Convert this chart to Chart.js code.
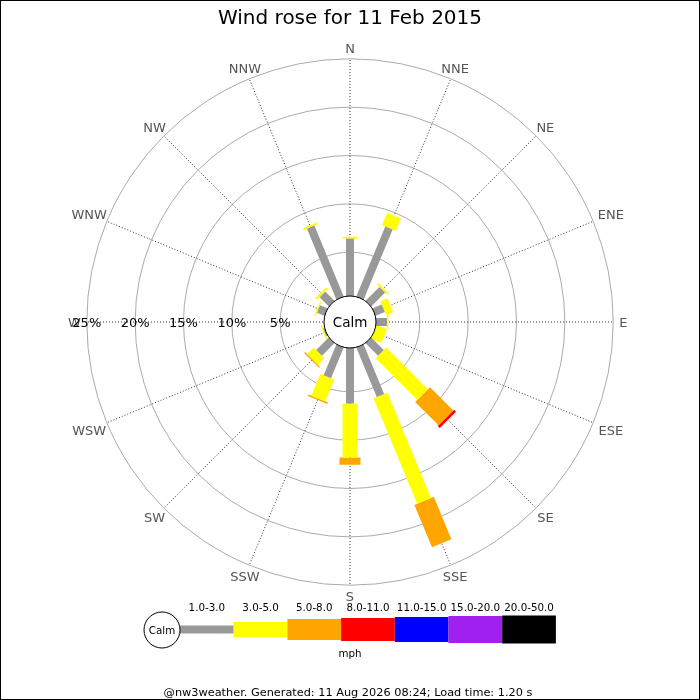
<!DOCTYPE html>
<html>
<head>
<meta charset="utf-8">
<title>Wind rose</title>
<script src="https://cdn.jsdelivr.net/npm/chart.js@4.4.1/dist/chart.umd.min.js"></script>
<style>
body{margin:0;background:#fff}
#wrap{width:700px;height:700px}
</style>
</head>
<body>
<div id="wrap"><canvas id="myChart" width="700" height="700"></canvas></div>
<script>
// directions and speed bands
const direcciones = ['N','NNE','NE','ENE','E','ESE','SE','SSE','S','SSW','SW','WSW','W','WNW','NW','NNW']
const bandas = ['1.0-3.0','3.0-5.0','5.0-8.0','8.0-11.0','11.0-15.0','15.0-20.0','20.0-50.0']

// % of time for each direction (N..NNW), one array per band
const vel1a3   = [6.4, 8.3, 2.5, 1.5, 1.6, 0.4, 2.3, 6.0, 6.2, 3.9, 2.3, 0.6, 0.3, 1.3, 1.8, 8.4]
const vel3a5   = [0.2, 1.4, 0.2, 0.8, 0.15, 1.2, 6.1, 11.8, 5.6, 2.45, 0.95, 0.15, 0.15, 0.15, 0.25, 0.2]
const vel5a8   = [0, 0, 0, 0, 0, 0, 3.4, 4.75, 0.75, 0.17, 0.15, 0, 0, 0, 0, 0]
const vel8a11  = [0, 0, 0, 0, 0, 0, 0.3, 0, 0, 0, 0, 0, 0, 0, 0, 0]
const vel11a15 = [0, 0, 0, 0, 0, 0, 0, 0, 0, 0, 0, 0, 0, 0, 0, 0]
const vel15a20 = [0, 0, 0, 0, 0, 0, 0, 0, 0, 0, 0, 0, 0, 0, 0, 0]
const vel20a50 = [0, 0, 0, 0, 0, 0, 0, 0, 0, 0, 0, 0, 0, 0, 0, 0]

const anillos = [5, 10, 15, 20, 25]
const anilloLabels = ['5%', '10%', '15%', '20%', '25%']

const titulo = 'Wind rose for 11 Feb 2015'
const unidad = 'mph'
const pie = '@nw3weather. Generated: 11 Aug 2026 08:24; Load time: 1.20 s'

const colores = ['#999999', '#ffff00', '#ffa500', '#ff0000', '#0000ff', '#a020f0', '#000000']
const anchos = [8, 15, 21, 23, 25, 27, 28]

const PX = 9.67        // px per 1 %
const OFFSET = 2.22    // calm hole, in % units
const TITLE_H = 34
const CENTRO_Y = 322

const tabla = [vel1a3, vel3a5, vel5a8, vel8a11, vel11a15, vel15a20, vel20a50]

Chart.defaults.font.family = '"DejaVu Sans", sans-serif'

const $datasets = []
for (let b = 0; b < tabla.length; b++) {
  for (let i = 0; i < direcciones.length; i++) {
    const v = tabla[b][i]
    if (!v) continue
    let inicio = 0
    for (let k = 0; k < b; k++) inicio += tabla[k][i]
    const ang = i * Math.PI / 8
    const r0 = OFFSET + inicio, r1 = OFFSET + inicio + v
    $datasets.push({
      label: direcciones[i] + ' ' + bandas[b],
      data: [{x: r0 * Math.sin(ang), y: r0 * Math.cos(ang)}, {x: r1 * Math.sin(ang), y: r1 * Math.cos(ang)}],
      showLine: true,
      borderColor: colores[b],
      backgroundColor: colores[b],
      borderWidth: anchos[b],
      borderCapStyle: 'butt',
      pointRadius: 0,
      pointHoverRadius: 0
    })
  }
}

const dibujoRosa = {
  id: 'dibujoRosa',
  beforeDatasetsDraw(chart) {
    const c = chart.ctx, sx = chart.scales.x, sy = chart.scales.y
    const cx = sx.getPixelForValue(0), cy = sy.getPixelForValue(0)
    const rad = v => sx.getPixelForValue(OFFSET + v) - cx
    const rMax = rad(anillos[anillos.length - 1])
    c.save()
    c.strokeStyle = '#aaaaaa'
    c.lineWidth = 1
    anillos.forEach(v => {
      c.beginPath(); c.arc(cx, cy, rad(v), 0, 2 * Math.PI); c.stroke()
    })
    c.strokeStyle = '#333333'
    c.setLineDash([1, 2])
    direcciones.forEach((d, i) => {
      const a = i * Math.PI / 8
      c.beginPath()
      c.moveTo(cx, cy)
      c.lineTo(cx + rMax * Math.sin(a), cy - rMax * Math.cos(a))
      c.stroke()
    })
    c.setLineDash([])
    c.font = '13px "DejaVu Sans"'
    c.fillStyle = '#555555'
    c.textAlign = 'center'
    c.textBaseline = 'middle'
    direcciones.forEach((d, i) => {
      const a = i * Math.PI / 8, dx = Math.sin(a), dy = -Math.cos(a)
      const w = c.measureText(d).width / 2, h = 5
      const e = Math.min(Math.abs(dx) > 0.01 ? w / Math.abs(dx) : 1e9, Math.abs(dy) > 0.01 ? h / Math.abs(dy) : 1e9)
      const r = rMax + 6 + e
      c.fillText(d, cx + r * dx, cy + r * dy + 1.5)
    })
    c.restore()
  },
  afterDatasetsDraw(chart) {
    const c = chart.ctx, sx = chart.scales.x, sy = chart.scales.y
    const cx = sx.getPixelForValue(0), cy = sy.getPixelForValue(0)
    const rad = v => sx.getPixelForValue(OFFSET + v) - cx
    c.save()
    // calm circle
    c.beginPath(); c.arc(cx, cy, 26, 0, 2 * Math.PI)
    c.fillStyle = '#fff'; c.fill()
    c.strokeStyle = '#000'; c.lineWidth = 1; c.stroke()
    c.fillStyle = '#000'
    c.textAlign = 'center'; c.textBaseline = 'middle'
    c.font = '13.5px "DejaVu Sans"'
    c.fillText('Calm', cx, cy + 1.5)
    // ring labels along W
    c.font = '13px "DejaVu Sans"'
    anillos.forEach((v, k) => c.fillText(anilloLabels[k], cx - rad(v), cy + 1.5))

    // legend
    const lx = 180, lw = 53.7, ly = 629.5
    c.font = '10.3px "DejaVu Sans"'
    for (let b = 0; b < bandas.length; b++) {
      c.fillStyle = colores[b]
      c.fillRect(lx + b * lw, ly - anchos[b] / 2, lw, anchos[b])
      c.fillStyle = '#000'
      c.fillText(bandas[b], lx + b * lw + lw / 2, 608)
    }
    c.beginPath(); c.arc(162, 630, 18, 0, 2 * Math.PI)
    c.fillStyle = '#fff'; c.fill(); c.strokeStyle = '#000'; c.stroke()
    c.fillStyle = '#000'
    c.fillText('Calm', 162, 631)
    c.fillText(unidad, 350, 654)
    c.font = '11.3px "DejaVu Sans"'
    c.fillText(pie, 348, 693)
    // frame
    c.strokeStyle = '#000'
    c.lineWidth = 1
    c.strokeRect(0.5, 0.5, 699, 699)
    c.restore()
  }
}

const $ctx = document.getElementById('myChart').getContext('2d')
const config = {
  type: 'scatter',
  data: {datasets: $datasets},
  options: {
    responsive: false,
    animation: false,
    layout: {padding: 0},
    plugins: {
      legend: {display: false},
      tooltip: {enabled: false},
      title: {
        display: true,
        text: titulo,
        color: '#000',
        font: {size: 20, weight: 'normal'},
        padding: {top: 7, bottom: 3}
      }
    },
    scales: {
      x: {display: false, min: -350 / PX, max: 350 / PX},
      y: {display: false, min: -(700 - CENTRO_Y) / PX, max: (CENTRO_Y - TITLE_H) / PX}
    }
  },
  plugins: [dibujoRosa]
}
var mychar = new Chart($ctx, config)
</script>
</body>
</html>
